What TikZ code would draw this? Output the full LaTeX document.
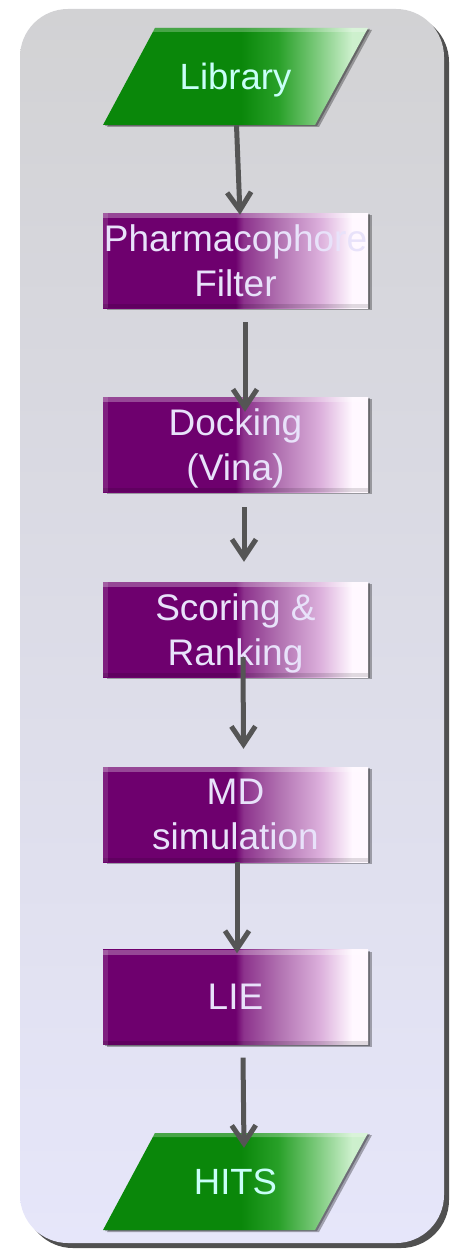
\documentclass[tikz,border=0pt]{standalone}
\usepackage{fontspec}
\setmainfont{Liberation Sans}
\usetikzlibrary{arrows.meta,shadows}

% palette
\definecolor{pdark}{RGB}{110,0,110}
\definecolor{pmidA}{RGB}{140,50,140}
\definecolor{pmidB}{RGB}{176,112,176}
\definecolor{pmidC}{RGB}{220,176,220}
\definecolor{plight}{RGB}{255,248,255}
\definecolor{gdark}{RGB}{10,135,10}
\definecolor{gmidA}{RGB}{40,160,40}
\definecolor{gmidB}{RGB}{120,200,120}
\definecolor{glight}{RGB}{205,240,205}
\definecolor{boxtext}{RGB}{232,226,250}
\definecolor{iotext}{RGB}{200,255,248}
\definecolor{arrowgray}{RGB}{85,85,85}
\definecolor{paneltop}{RGB}{210,210,212}
\definecolor{panelbot}{RGB}{230,230,250}
\definecolor{panelshadow}{RGB}{80,80,80}

% left-to-right fades (the object spans 25bp..75bp)
\pgfdeclarehorizontalshading{purpfade}{100bp}{%
  color(0bp)=(pdark); color(25bp)=(pdark); color(50bp)=(pdark);
  color(51.5bp)=(pmidA); color(58bp)=(pmidB); color(66bp)=(pmidC);
  color(72bp)=(plight); color(75bp)=(plight); color(100bp)=(plight)}
\pgfdeclarehorizontalshading{greenfade}{100bp}{%
  color(0bp)=(gdark); color(25bp)=(gdark); color(51bp)=(gdark);
  color(58bp)=(gmidA); color(65bp)=(gmidB); color(72bp)=(glight);
  color(75bp)=(glight); color(100bp)=(glight)}

\tikzset{
  stepbox/.style={rectangle, minimum width=265pt, minimum height=95pt,
    inner sep=0pt, shading=purpfade, text=boxtext, align=center,
    font=\fontsize{37}{45}\selectfont, text depth=0pt,
    drop shadow={shadow xshift=4pt, shadow yshift=-2pt, fill=black, opacity=.3},
    drop shadow={shadow xshift=2pt, shadow yshift=-1pt, fill=black, opacity=.3},
    path picture={
      \fill[white,opacity=.28] (path picture bounding box.north west)
        rectangle ([yshift=-5pt]path picture bounding box.north east);
      \fill[white,opacity=.12] (path picture bounding box.north west)
        rectangle ([xshift=5pt]path picture bounding box.south west);
      \fill[black,opacity=.12] (path picture bounding box.south west)
        rectangle ([yshift=4pt]path picture bounding box.south east);
    }},
  iobox/.style={shading=greenfade,
    drop shadow={shadow xshift=4pt, shadow yshift=-2pt, fill=black, opacity=.3},
    drop shadow={shadow xshift=2pt, shadow yshift=-1pt, fill=black, opacity=.3}},
  iolabel/.style={minimum width=213pt, minimum height=97pt, inner sep=0pt,
    text=iotext, font=\fontsize{36.5}{44}\selectfont, text depth=0pt},
  flow/.style={draw=arrowgray, line width=5pt,
    -{Straight Barb[length=18pt,width=24pt,line width=5pt]}}
}

\begin{document}
\begin{tikzpicture}[x=1pt,y=-1pt]
\useasboundingbox (0,0) rectangle (451,1252);

% background panel with its shadow
\fill[panelshadow, rounded corners=48pt] (25,14) rectangle (449,1248);
\shade[top color=paneltop, bottom color=panelbot, rounded corners=48pt]
  (20,9) rectangle (444,1243);

% input parallelogram
\shade[iobox] (155,28) -- (368,28) -- (315,125) -- (103,125) -- cycle;
\fill[white,opacity=.25] (155,28) -- (368,28) -- (365.8,32) -- (152.8,32) -- cycle;
\node[iolabel] (lib) at (235.5,76.5) {Library};

% processing steps
\node[stepbox] (ph)   at (235.5,260.5) {Pharmacophore\\Filter};
\node[stepbox] (dock) at (235.5,444.5) {Docking\\(Vina)};
\node[stepbox] (sc)   at (235.5,629.5) {Scoring \&\\Ranking};
\node[stepbox] (md)   at (235.5,814.5) {MD\\simulation};
\node[stepbox] (lie)  at (235.5,997)   {LIE};

% output parallelogram
\shade[iobox] (155,1133) -- (368,1133) -- (315,1230) -- (103,1230) -- cycle;
\fill[white,opacity=.25] (155,1133) -- (368,1133) -- (365.8,1137) -- (152.8,1137) -- cycle;
\node[iolabel] (hits) at (235.5,1181.5) {HITS};

% connectors
\draw[flow] ([xshift=1pt]lib.south) -- ([xshift=4.5pt,yshift=-2pt]ph.north);
\draw[flow] ([xshift=9.5pt,yshift=-14pt]ph.south) -- ([xshift=9.5pt,yshift=-15pt]dock.north);
\draw[flow] ([xshift=8.5pt,yshift=-15pt]dock.south) -- ([xshift=8.5pt,yshift=20pt]sc.north);
\draw[flow] ([xshift=7.5pt,yshift=20pt]sc.south) -- ([xshift=8pt,yshift=18pt]md.north);
\draw[flow] ([xshift=1.5pt]md.south) -- ([xshift=1.5pt,yshift=-4pt]lie.north);
\draw[flow] ([xshift=7.5pt,yshift=-13pt]lie.south) -- ([xshift=8.5pt,yshift=-15pt]hits.north);
\end{tikzpicture}
\end{document}
